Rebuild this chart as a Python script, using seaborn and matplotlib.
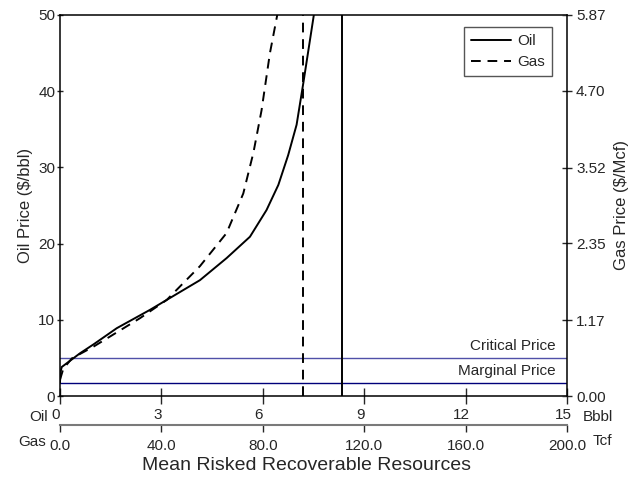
import matplotlib
matplotlib.use("Agg")
import matplotlib.pyplot as plt
import matplotlib.transforms as mtransforms
import seaborn as sns
import numpy as np

# Oil supply curve (Bbbl vs $/bbl)
oil_bbbl = [0.0, 0.01, 0.05, 0.2, 0.59, 1.0, 1.68, 2.66, 4.14, 4.93, 5.62, 6.11, 6.46, 6.75, 7.0, 7.2, 7.51]
oil_price = [1.75, 3.0, 3.8, 4.3, 5.6, 6.8, 8.9, 11.3, 15.2, 18.1, 20.9, 24.4, 27.7, 31.6, 35.6, 41.1, 50.0]

# Gas supply curve (Tcf vs $/Mcf)
gas_tcf = [0.0, 1.3, 4.7, 13.2, 31.6, 42.1, 55.2, 65.7, 72.3, 76.3, 79.5, 82.8, 85.7]
gas_price = [0.25, 0.42, 0.58, 0.76, 1.20, 1.48, 2.00, 2.51, 3.12, 3.75, 4.40, 5.28, 5.87]

# Mean risked resources (vertical lines)
oil_mean = 8.34   # Bbbl
gas_mean = 96.0   # Tcf

# Reference prices ($/bbl)
critical_price = 5.0
marginal_price = 1.75

oil_xticks = [0, 3, 6, 9, 12, 15]
oil_yticks = [0, 10, 20, 30, 40, 50]
gas_xticks = [0, 40, 80, 120, 160, 200]
gas_xlabels = ["0.0", "40.0", "80.0", "120.0", "160.0", "200.0"]
gas_yticks = [0.0, 1.17, 2.35, 3.52, 4.70, 5.87]

sns.set_style("ticks")
plt.rcParams['font.family'] = ['Liberation Sans', 'DejaVu Sans']

fig = plt.figure(figsize=(6.31, 4.78), dpi=100)
pos = [60 / 631, 82 / 478, 507 / 631, 381 / 478]
ax = fig.add_axes(pos)
ax_g = fig.add_axes(pos)
ax_g.patch.set_visible(False)

# oil axes
ax.set_xlim(0, 15)
ax.set_ylim(0, 50)
ax.axhline(critical_price, color="#5050a8", lw=1.0)
ax.axhline(marginal_price, color="#00007a", lw=1.0)
sns.lineplot(x=oil_bbbl, y=oil_price, ax=ax, color="black", lw=1.4,
             sort=False, estimator=None, label="Oil")
ax.axvline(oil_mean, color="black", lw=1.4)

ax.text(14.65, critical_price + 0.6, "Critical Price", ha="right", va="bottom", fontsize=11)
ax.text(14.65, marginal_price + 0.6, "Marginal Price", ha="right", va="bottom", fontsize=11)

ax.set_xticks(oil_xticks)
ax.set_yticks(oil_yticks)
ax.set_xticklabels([str(t) for t in oil_xticks])
ax.tick_params(axis="x", direction="inout", length=11.5, width=1, pad=3, labelsize=11)
ax.tick_params(axis="y", direction="inout", length=5, width=1, pad=1, labelsize=11)
offset = mtransforms.ScaledTranslation(-4 / 100, 0, fig.dpi_scale_trans)
for lab in ax.get_xticklabels():
    lab.set_transform(lab.get_transform() + offset)
ax.set_ylabel("Oil Price ($/bbl)", fontsize=12, labelpad=4)
ax.spines["right"].set_visible(False)
for s in ["left", "bottom", "top"]:
    ax.spines[s].set_linewidth(1.1)
    ax.spines[s].set_color("black")

# gas axes
ax_g.set_xlim(0, 200)
ax_g.set_ylim(0, 5.87)
sns.lineplot(x=gas_tcf, y=gas_price, ax=ax_g, color="black", lw=1.4,
             sort=False, estimator=None, label="Gas")
ax_g.lines[-1].set_dashes((5, 3.5))
ax_g.axvline(gas_mean, color="black", lw=1.4, dashes=(5, 3.5))
ax_g.yaxis.tick_right()
ax_g.yaxis.set_label_position("right")
ax_g.set_yticks(gas_yticks)
ax_g.set_yticklabels([f"{t:.2f}" for t in gas_yticks])
ax_g.set_xticks(gas_xticks)
ax_g.set_xticklabels(gas_xlabels)
ax_g.tick_params(axis="y", direction="inout", length=7, width=1, pad=3, labelsize=11)
ax_g.tick_params(axis="x", direction="out", length=5, width=1, pad=5, labelsize=11)
offset_g = mtransforms.ScaledTranslation(7 / 100, 0, fig.dpi_scale_trans)
for lab in ax_g.get_xticklabels():
    lab.set_transform(lab.get_transform() + offset_g)
ax_g.set_ylabel("Gas Price ($/Mcf)", fontsize=12, labelpad=6)
ax_g.spines["top"].set_visible(False)
ax_g.spines["left"].set_visible(False)
ax_g.spines["right"].set_linewidth(1.1)
ax_g.spines["right"].set_color("black")
ax_g.spines["bottom"].set_position(("outward", 21))
ax_g.spines["bottom"].set_color("#7a7a7a")
ax_g.spines["bottom"].set_linewidth(1.5)

# legend combining both curves
h1, l1 = ax.get_legend_handles_labels()
h2, l2 = ax_g.get_legend_handles_labels()
ax.get_legend().remove()
ax_g.get_legend().remove()
leg = ax_g.legend(h1 + h2, l1 + l2, loc="upper right", bbox_to_anchor=(0.970, 0.968),
                  borderaxespad=0, fancybox=False, framealpha=1, edgecolor="#555555",
                  fontsize=11, handlelength=2.6, borderpad=0.45, labelspacing=0.45,
                  handletextpad=0.4, alignment="right")
for t in leg.get_texts():
    t.set_ha("right")
leg.get_frame().set_linewidth(1.0)

# axis unit labels
fig.text(48 / 631, 1 - 417 / 478, "Oil", ha="right", va="center", fontsize=11)
fig.text(583 / 631, 1 - 417 / 478, "Bbbl", ha="left", va="center", fontsize=11)
fig.text(46 / 631, 1 - 442 / 478, "Gas", ha="right", va="center", fontsize=11)
fig.text(593 / 631, 1 - 441 / 478, "Tcf", ha="left", va="center", fontsize=11)
fig.text(307 / 631, 1 - 466 / 478, "Mean Risked Recoverable Resources", ha="center",
         va="center", fontsize=14)

fig.savefig("out.png", dpi=100)
